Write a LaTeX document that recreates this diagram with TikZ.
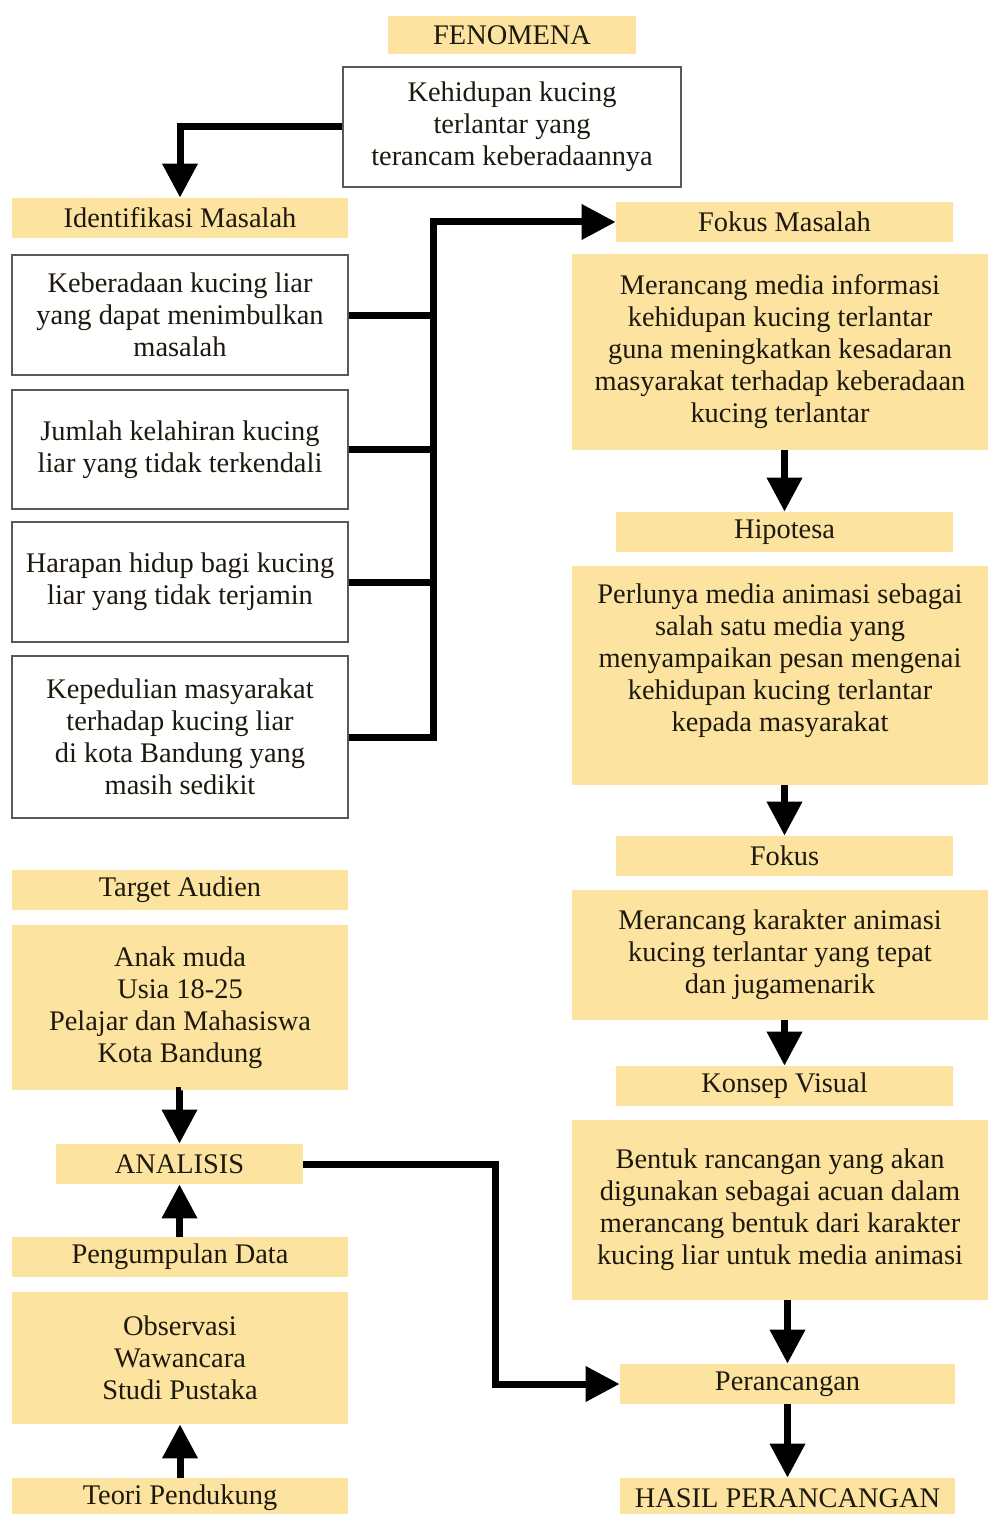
\documentclass[tikz,border=0pt]{standalone}
\usepackage{fontspec}
\setmainfont{Liberation Serif}
\usetikzlibrary{arrows.meta}
\definecolor{ybg}{RGB}{252,228,160}
\definecolor{tx}{RGB}{30,25,15}
\begin{document}
\begin{tikzpicture}[x=0.5pt,y=-0.5pt,
 every node/.style={font=\fontsize{14.2}{16}\selectfont, text=tx, align=center, inner sep=0pt},
 ybox/.style={fill=ybg},
 wbox/.style={draw=black!65, line width=0.7pt, fill=white},
 ln/.style={line width=3.5pt},
 arr/.style={line width=3.5pt, -{Triangle[length=17pt,width=17pt]}},
]
\clip (0,0) rectangle (988,1514);
\fill[white] (0,0) rectangle (988,1514);

% top
\node[ybox, minimum width=124pt, minimum height=19pt] (fen) at (512,35) {FENOMENA};
\node[wbox, minimum width=169pt, minimum height=60pt] (keh) at (512,127) {Kehidupan kucing\\terlantar yang\\terancam keberadaannya};

% left column
\node[ybox, minimum width=168pt, minimum height=20pt] (idm) at (180,218) {Identifikasi Masalah};
\node[wbox, minimum width=168pt, minimum height=60pt] (b1) at (180,315) {Keberadaan kucing liar\\yang dapat menimbulkan\\masalah};
\node[wbox, minimum width=168pt, minimum height=59.5pt] (b2) at (180,449.5) {Jumlah kelahiran kucing\\liar yang tidak terkendali};
\node[wbox, minimum width=168pt, minimum height=60pt] (b3) at (180,582) {Harapan hidup bagi kucing\\liar yang tidak terjamin};
\node[wbox, minimum width=168pt, minimum height=81pt] (b4) at (180,737) {Kepedulian masyarakat\\terhadap kucing liar\\di kota Bandung yang\\masih sedikit};

\node[ybox, minimum width=168pt, minimum height=20pt] (ta) at (180,890) {Target Audien};
\node[ybox, minimum width=168pt, minimum height=82.5pt] (tab) at (180,1007.5) {Anak muda\\Usia 18-25\\Pelajar dan Mahasiswa\\Kota Bandung};
\node[ybox, minimum width=123.5pt, minimum height=20pt] (an) at (179.5,1164) {ANALISIS};
\node[ybox, minimum width=168pt, minimum height=20pt] (pd) at (180,1257) {Pengumpulan Data};
\node[ybox, minimum width=168pt, minimum height=66pt] (pdb) at (180,1358) {Observasi\\Wawancara\\Studi Pustaka};
\node[ybox, minimum width=168pt, minimum height=20pt] (teo) at (180,1498) {Teori Pendukung};

% right column
\node[ybox, minimum width=168.5pt, minimum height=20pt] (fm) at (784.5,222) {Fokus Masalah};
\node[ybox, minimum width=208pt, minimum height=98pt] (fmb) at (780,352) {Merancang media informasi\\kehidupan kucing terlantar\\guna meningkatkan kesadaran\\masyarakat terhadap keberadaan\\kucing terlantar};
\node[ybox, minimum width=168.5pt, minimum height=20pt] (hip) at (784.5,532) {Hipotesa};
\node[ybox, minimum width=208pt, minimum height=109.5pt] (hipb) at (780,675.5) {Perlunya media animasi sebagai\\salah satu media yang\\menyampaikan pesan mengenai\\kehidupan kucing terlantar\\kepada masyarakat\\[2pt]};
\node[ybox, minimum width=168.5pt, minimum height=20pt] (fok) at (784.5,856) {Fokus};
\node[ybox, minimum width=208pt, minimum height=65pt] (fokb) at (780,955) {Merancang karakter animasi\\kucing terlantar yang tepat\\dan jugamenarik};
\node[ybox, minimum width=168.5pt, minimum height=20pt] (kv) at (784.5,1086) {Konsep Visual};
\node[ybox, minimum width=208pt, minimum height=90pt] (kvb) at (780,1210) {Bentuk rancangan yang akan\\digunakan sebagai acuan dalam\\merancang bentuk dari karakter\\kucing liar untuk media animasi};
\node[ybox, minimum width=167.5pt, minimum height=20pt] (per) at (787.5,1384) {Perancangan};
\node[ybox, minimum width=167.5pt, minimum height=20pt] (has) at (787.5,1498) {HASIL PERANCANGAN};

% connectors
\draw[arr] (keh.west) -| (idm.north);
\coordinate (tr) at (433,222);
\draw[ln] (b1.east) -- (b1.east -| tr);
\draw[ln] (b2.east) -- (b2.east -| tr);
\draw[ln] (b3.east) -- (b3.east -| tr);
\draw[arr] (b4.east) -| (tr) -- (fm.west);

\draw[arr] (hip.north |- fmb.south) -- (hip.north);
\draw[arr] (fok.north |- hipb.south) -- (fok.north);
\draw[arr] (kv.north |- fokb.south) -- (kv.north);
\draw[arr] (per.north |- kvb.south) -- (per.north);
\draw[arr] (per.south) -- (has.north);

\draw[arr] (tab.south) -- (an.north |- tab.south) -- (an.north);
\draw[arr] (an.south |- pd.north) -- (an.south);
\draw[arr] (teo.north) -- (pdb.south);
\coordinate (bend) at (495,1164);
\draw[arr] (an.east) -- (bend) |- (per.west);
\end{tikzpicture}
\end{document}
